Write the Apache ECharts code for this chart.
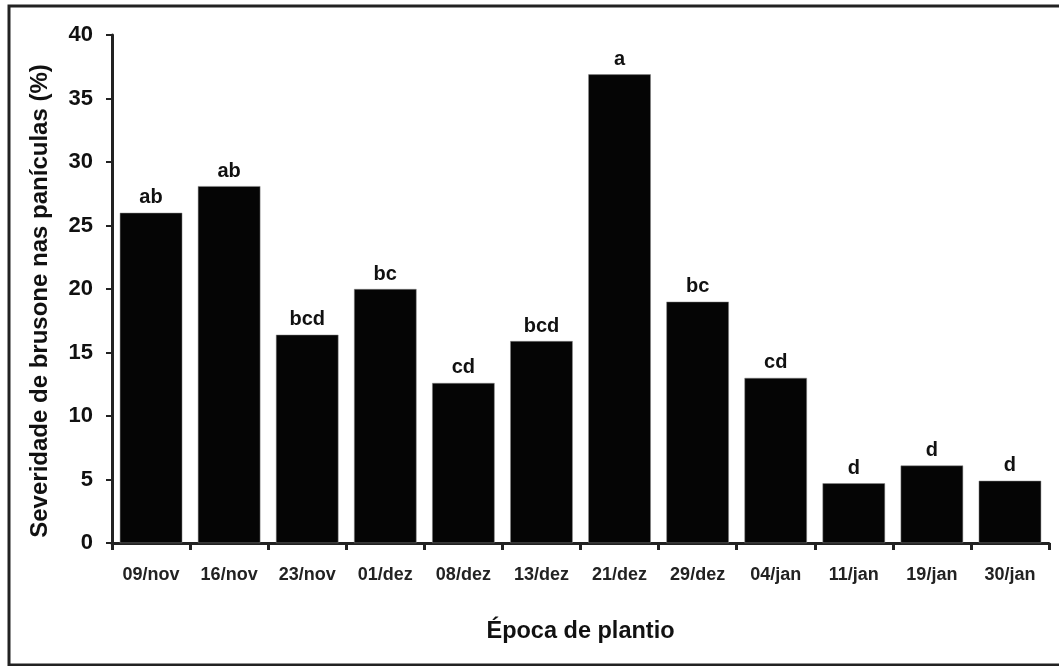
<!DOCTYPE html>
<html>
<head>
<meta charset="utf-8">
<script src="https://cdn.jsdelivr.net/npm/echarts@6/dist/echarts.min.js"></script>
<style>html,body{margin:0;padding:0;background:#fff}#c{width:1059px;height:666px}</style>
</head>
<body>
<div id="c"></div>
<script>
const categories = ['09/nov','16/nov','23/nov','01/dez','08/dez','13/dez','21/dez','29/dez','04/jan','11/jan','19/jan','30/jan'];
const severity = [26.0, 28.1, 16.4, 20.0, 12.6, 15.9, 36.9, 19.0, 13.0, 4.7, 6.1, 4.9];
const letters = ['ab','ab','bcd','bc','cd','bcd','a','bc','cd','d','d','d'];
const yTicks = [0,5,10,15,20,25,30,35,40];

const font = 'Liberation Sans, Arial, sans-serif';
const chart = echarts.init(document.getElementById('c'));
chart.setOption({
  animation: false,
  backgroundColor: '#fff',
  graphic: [{
    type: 'rect', shape: {x: 9, y: 6, width: 1070, height: 659},
    style: {fill: 'none', stroke: '#222', lineWidth: 3}
  }],
  grid: {left: 112, right: 10, top: 35, bottom: 123},
  xAxis: {
    type: 'category', data: categories,
    boundaryGap: true,
    axisLine: {lineStyle: {color: '#222', width: 3}},
    axisTick: {show: true, length: 7, lineStyle: {color: '#222', width: 3}},
    axisLabel: {color: '#222', fontFamily: font, fontWeight: 'bold', fontSize: 18, margin: 23},
    name: 'Época de plantio', nameLocation: 'middle', nameGap: 77,
    nameTextStyle: {color: '#111', fontFamily: font, fontWeight: 'bold', fontSize: 23.5}
  },
  yAxis: {
    type: 'value', min: 0, max: 40, interval: 5,
    axisLine: {show: true, lineStyle: {color: '#222', width: 3}},
    axisTick: {show: true, length: 6, lineStyle: {color: '#222', width: 2}},
    splitLine: {show: false},
    axisLabel: {color: '#111', fontFamily: font, fontWeight: 'bold', fontSize: 22, margin: 19,
      formatter: v => yTicks.includes(v) ? String(v) : ''},
    name: 'Severidade de brusone nas panículas (%)', nameLocation: 'middle', nameGap: 60,
    nameTextStyle: {color: '#111', fontFamily: font, fontWeight: 'bold', fontSize: 24, padding: [0, 24, 0, 0]}
  },
  series: [{
    type: 'bar', data: severity, barCategoryGap: '20%',
    itemStyle: {color: '#050505', borderColor: '#888', borderWidth: 0.5},
    label: {show: true, position: 'top', distance: 5,
      formatter: p => letters[p.dataIndex],
      color: '#111', fontFamily: font, fontWeight: 'bold', fontSize: 20}
  }]
});
</script>
</body>
</html>
